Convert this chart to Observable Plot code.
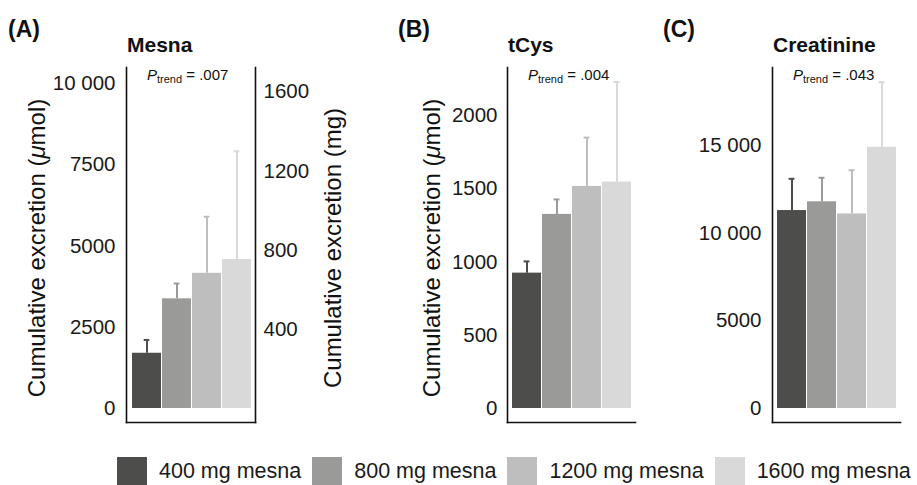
<!DOCTYPE html>
<html><head><meta charset="utf-8">
<script src="https://cdn.jsdelivr.net/npm/d3@7"></script>
<script src="https://cdn.jsdelivr.net/npm/@observablehq/plot@0.6"></script>
<style>
body{margin:0;background:#fff;}
#fig{position:relative;width:917px;height:485px;overflow:hidden;font-family:"Liberation Sans",Arial,Helvetica,sans-serif;color:#1a1a1a;background:#fff;}
#fig svg{position:absolute;top:0;}
#legend{position:absolute;left:117px;top:457px;display:flex;align-items:center;font-size:21.5px;white-space:nowrap;}
.it{display:flex;align-items:center;margin-right:11px;}
.sw{width:30px;height:28px;margin-right:12px;}
</style></head><body><div id="fig"><div id="legend"></div></div>
<script>
// ---- data ----
const doses = ["400 mg mesna", "800 mg mesna", "1200 mg mesna", "1600 mg mesna"];
const colors = ["#4d4d4b", "#9a9b99", "#bebebe", "#d9d9d9"];

const mesnaMean = [1700, 3375, 4160, 4585];
const mesnaSD   = [410, 470, 1740, 3330];
const tcysMean  = [924, 1325, 1516, 1546];
const tcysSD    = [80, 102, 333, 683];
const creatMean = [11290, 11790, 11095, 14900];
const creatSD   = [1810, 1370, 2495, 3710];

const mesnaTicks = [0, 2500, 5000, 7500, 10000];
const mesnaMgTicks = [400, 800, 1200, 1600];
const tcysTicks = [0, 500, 1000, 1500, 2000];
const creatTicks = [0, 5000, 10000, 15000];
const mgPerUmol = 0.16418; // mesna, mg per µmol

const fmt = d => d >= 10000 ? d3.format(",")(d).replace(/,/g, " ") : String(d);
const FONT = '"Liberation Sans", Arial, Helvetica, sans-serif';

const fig = document.getElementById("fig");

function panel(o) {
  const rows = doses.map((d, i) => ({dose: d, mean: o.mean[i], upper: o.mean[i] + o.sd[i]}));
  const bw = (o.barRange[1] - o.barRange[0]) / (doses.length - 0.05) * 0.95;
  const ins = (bw - 6) / 2;
  const marks = [
    Plot.barY(rows, {x: "dose", y: "mean", fill: "dose"}),
    Plot.ruleX(rows, {x: "dose", y1: "mean", y2: "upper", stroke: "dose", strokeWidth: 2}),
    Plot.tickY(rows, {x: "dose", y: "upper", stroke: "dose", strokeWidth: 2, insetLeft: ins, insetRight: ins}),
    Plot.axisY(o.ticks, {anchor: "left", tickSize: 0, tickPadding: o.tickPad, tickFormat: fmt, fontSize: 20.5, label: null, color: "#1a1a1a"}),
    Plot.frame({anchor: "left", stroke: "#111", strokeWidth: 1.6}),
    Plot.frame({anchor: "bottom", stroke: "#111", strokeWidth: 1.6})
  ];
  if (o.right) {
    marks.push(Plot.axisY(mesnaMgTicks.map(m => m / mgPerUmol), {anchor: "right", tickSize: 0, tickPadding: 8,
      tickFormat: d => String(Math.round(d * mgPerUmol)), fontSize: 20.5, label: null, color: "#1a1a1a"}));
    marks.push(Plot.frame({anchor: "right", stroke: "#111", strokeWidth: 1.6}));
  }
  const svg = Plot.plot({
    width: o.width, height: 440,
    marginLeft: o.marginLeft, marginRight: o.marginRight, marginTop: 67, marginBottom: 18,
    style: {fontFamily: FONT, background: "transparent", overflow: "visible"},
    x: {domain: doses, range: o.barRange, paddingInner: 0.05, paddingOuter: 0, axis: null},
    y: {domain: o.yDomain, range: [408, o.yTop]},
    color: {domain: doses, range: colors},
    marks
  });
  svg.style.left = o.left + "px";
  fig.appendChild(svg);
  const s = d3.select(svg);
  s.append("text").attr("x", o.letterX).attr("y", 37).attr("font-size", 23).attr("font-weight", "bold")
    .attr("text-anchor", "start").attr("font-family", FONT).attr("fill", "#111").text(o.letter);
  s.append("text").attr("x", o.marginLeft + 1).attr("y", 52).attr("font-size", 21).attr("font-weight", "bold")
    .attr("text-anchor", "start").attr("font-family", FONT).attr("fill", "#111").text(o.title);
  const p = s.append("text").attr("x", o.marginLeft + 21).attr("y", 80).attr("font-size", 15)
    .attr("text-anchor", "start").attr("font-family", FONT).attr("fill", "#111");
  p.append("tspan").attr("font-style", "italic").text("P");
  p.append("tspan").attr("font-size", 11).attr("dy", 3).text("trend");
  p.append("tspan").attr("dy", -3).text(" = " + o.ptrend);
  if (o.yTitleX != null) {
    const t = s.append("text").attr("transform", `translate(${o.yTitleX},248) rotate(-90)`)
      .attr("text-anchor", "middle").attr("font-size", 24).attr("font-family", FONT).attr("fill", "#111");
    t.append("tspan").text("Cumulative excretion (");
    t.append("tspan").attr("font-style", "italic").text("μ");
    t.append("tspan").text("mol)");
  }
  if (o.right) {
    s.append("text").attr("transform", `translate(${o.rightTitleX},248) rotate(-90)`)
      .attr("text-anchor", "middle").attr("font-size", 24).attr("font-family", FONT).attr("fill", "#111")
      .text("Cumulative excretion (mg)");
  }
}

panel({left: 0, width: 370, marginLeft: 126, marginRight: 115, barRange: [130, 252],
  mean: mesnaMean, sd: mesnaSD, yDomain: [0, 10000], yTop: 83, ticks: mesnaTicks, tickPad: 11,
  right: true, title: "Mesna", letter: "(A)", letterX: 8, ptrend: ".007", yTitleX: 45, rightTitleX: 341});
panel({left: 370, width: 275, marginLeft: 137, marginRight: 10, barRange: [141, 262],
  mean: tcysMean, sd: tcysSD, yDomain: [0, 2000], yTop: 115, ticks: tcysTicks, tickPad: 10,
  right: false, title: "tCys", letter: "(B)", letterX: 28, ptrend: ".004", yTitleX: 70});
panel({left: 645, width: 272, marginLeft: 127, marginRight: 17, barRange: [131, 252],
  mean: creatMean, sd: creatSD, yDomain: [0, 15000], yTop: 145, ticks: creatTicks, tickPad: 11,
  right: false, title: "Creatinine", letter: "(C)", letterX: 18, ptrend: ".043", yTitleX: null});

// legend
const lg = d3.select("#legend");
doses.forEach((d, i) => {
  const it = lg.append("div").attr("class", "it");
  it.append("div").attr("class", "sw").style("background", colors[i]);
  it.append("span").text(d);
});
</script></body></html>
